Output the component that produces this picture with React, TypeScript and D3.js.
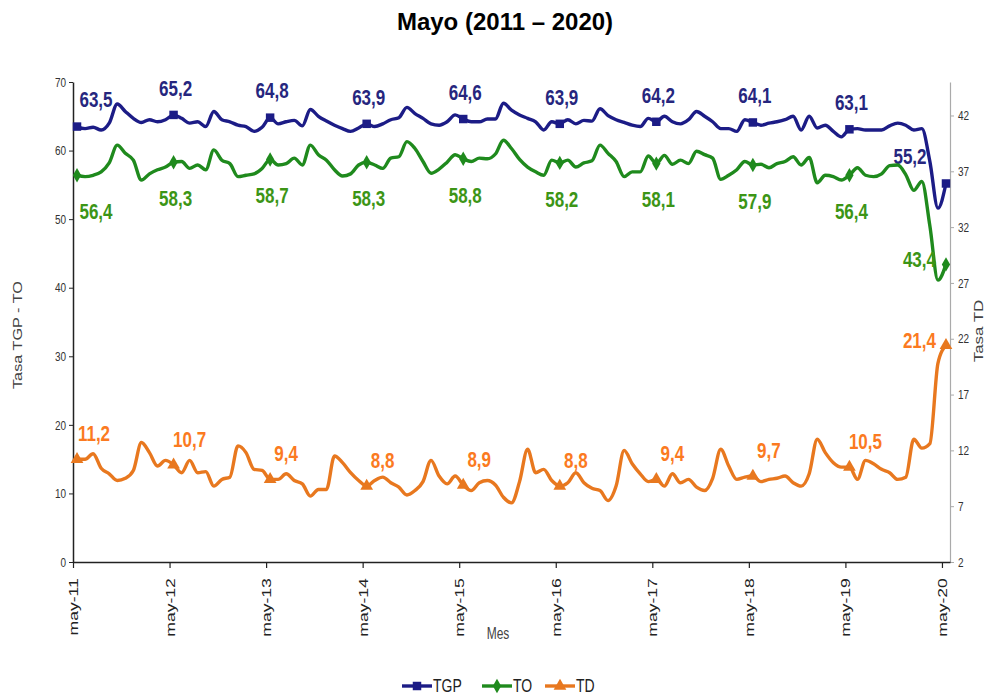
import React, { useEffect, useRef } from 'react';
import * as d3 from 'd3';

// months from may-11 to may-20 (one value per month)
const yearLabels = ['may-11', 'may-12', 'may-13', 'may-14', 'may-15', 'may-16', 'may-17', 'may-18', 'may-19', 'may-20']

const tgp = [
  63.5, 63.2, 63.4, 63.0, 64.0, 66.8, 65.7, 64.7, 64.1, 64.5, 64.2, 64.5,
  65.2, 64.7, 64.0, 64.2, 63.5, 65.7, 64.5, 64.2, 63.7, 63.5, 62.8, 63.4,
  64.8, 63.9, 64.2, 64.4, 63.6, 66.0, 65.0, 64.3, 63.7, 63.2, 62.8, 63.3,
  63.9, 63.5, 63.9, 64.5, 64.8, 66.3, 65.4, 64.7, 63.9, 63.7, 64.2, 65.2,
  64.6, 64.2, 64.2, 64.6, 64.6, 66.9, 65.9, 65.2, 64.7, 64.2, 63.0, 64.2,
  63.9, 64.5, 63.9, 64.4, 64.3, 66.1, 65.1, 64.5, 64.1, 63.7, 63.5, 64.7,
  64.2, 65.0, 64.2, 63.9, 64.5, 65.7, 65.0, 64.2, 63.2, 63.2, 62.8, 64.5,
  64.1, 63.7, 64.0, 64.2, 64.5, 65.0, 63.0, 65.0, 63.3, 63.7, 62.8, 62.0,
  63.1, 63.2, 63.0, 63.0, 63.0, 63.6, 64.0, 63.7, 63.0, 63.2, 58.4, 51.6,
  55.2
]

const to = [
  56.4, 56.2, 56.4, 56.9, 58.2, 60.8, 59.6, 58.6, 55.7, 56.6, 57.2, 57.6,
  58.3, 58.4, 57.4, 57.9, 57.2, 60.1, 58.6, 58.1, 56.2, 56.4, 56.6, 57.4,
  58.7, 57.9, 58.1, 58.9, 57.9, 60.8, 59.4, 58.6, 57.2, 56.3, 56.6, 57.9,
  58.3, 57.9, 57.4, 58.9, 59.1, 61.3, 60.3, 58.4, 56.7, 57.3, 58.3, 59.4,
  58.8, 58.4, 58.9, 58.8, 59.5, 61.5, 60.3, 58.7, 57.6, 56.9, 56.4, 58.6,
  58.2, 58.6, 57.6, 58.2, 58.5, 60.8, 59.6, 58.4, 56.2, 56.9, 56.9, 59.2,
  58.1, 59.3, 58.0, 58.6, 58.1, 59.9, 59.4, 58.9, 55.8, 56.4, 57.2, 58.4,
  57.9, 58.0, 57.5, 58.1, 58.4, 59.1, 57.9, 59.0, 55.3, 56.4, 56.2, 55.7,
  56.4, 57.5, 56.4, 56.2, 56.6, 57.8, 57.9, 56.5, 54.2, 55.5, 49.0, 41.1,
  43.4
]

const td = [
  11.2, 11.2, 11.7, 10.4, 9.9, 9.3, 9.5, 10.2, 12.7, 11.8, 10.6, 11.1,
  10.7, 10.0, 11.1, 10.0, 10.1, 8.8, 9.4, 9.6, 12.4, 11.8, 10.3, 10.2,
  9.4, 9.4, 9.9, 9.3, 9.0, 7.9, 8.5, 8.5, 11.5, 10.9, 10.0, 9.3,
  8.8, 9.3, 9.6, 9.1, 8.7, 8.0, 8.4, 9.2, 11.1, 9.7, 9.0, 9.7,
  8.9, 8.4, 9.1, 9.3, 8.9, 7.8, 7.3, 9.2, 12.1, 10.0, 10.3, 9.3,
  8.8, 9.1, 10.0, 9.1, 8.6, 8.4, 7.5, 8.8, 12.0, 10.8, 9.9, 9.2,
  9.4, 8.8, 9.9, 9.1, 9.4, 8.7, 8.4, 9.5, 12.1, 10.6, 9.4, 9.6,
  9.7, 9.2, 9.4, 9.5, 9.7, 9.1, 8.8, 9.9, 13.0, 11.8, 10.9, 10.5,
  10.5, 9.4, 11.1, 10.8, 10.3, 10.0, 9.4, 9.6, 13.0, 12.2, 12.6, 19.8,
  21.4
]

const leftTicks = [0, 10, 20, 30, 40, 50, 60, 70]
const rightTicks = [2, 7, 12, 17, 22, 27, 32, 37, 42]

const FONT = 'Arial, "Liberation Sans", sans-serif'
const SY = 1.3 // the source picture is stretched vertically

function App() {
  const ref = useRef<SVGSVGElement>(null)

  useEffect(() => {
    const svg = d3.select(ref.current)
    svg.selectAll('*').remove()

    const left = 73, right = 950, top = 82, bottom = 562
    const n = tgp.length

    const x = d3.scaleLinear().domain([-0.5, n - 0.5]).range([left, right])
    const yL = d3.scaleLinear().domain([0, 70]).range([bottom, top])
    const yR = d3.scaleLinear().domain([2, 45]).range([bottom, top])

    const fmt = (v: number) => d3.format('.1f')(v).replace('.', ',')

    // title
    svg.append('text')
      .attr('x', 505).attr('y', 30)
      .attr('text-anchor', 'middle')
      .attr('font-family', FONT).attr('font-weight', 'bold').attr('font-size', 24)
      .text('Mayo (2011 \u2013 2020)')

    // left axis
    const gl = svg.append('g')
      .attr('transform', `translate(${left},0)`)
      .call(d3.axisLeft(yL).tickValues(leftTicks).tickSize(4).tickSizeOuter(0))
    gl.select('.domain').attr('stroke', '#222').attr('stroke-width', 1.5)
    gl.selectAll('.tick line').attr('stroke', '#222')
    gl.selectAll('.tick text')
      .attr('font-family', FONT).attr('font-size', 10).attr('fill', '#333')
      .attr('x', -7)
      .attr('transform', `scale(1,${SY})`)

    // right axis
    const gr = svg.append('g')
      .attr('transform', `translate(${right},0)`)
      .call(d3.axisRight(yR).tickValues(rightTicks).tickSize(4).tickSizeOuter(0))
    gr.select('.domain').attr('stroke', '#aaa').attr('stroke-width', 1.2)
    gr.selectAll('.tick line').attr('stroke', '#aaa')
    gr.selectAll('.tick text')
      .attr('font-family', FONT).attr('font-size', 10).attr('fill', '#333')
      .attr('x', 8)
      .attr('transform', `scale(1,${SY})`)

    // bottom axis
    const gb = svg.append('g')
      .attr('transform', `translate(0,${bottom})`)
      .call(d3.axisBottom(x)
        .tickValues(yearLabels.map((d, i) => i * 12 - 0.5))
        .tickFormat((d, i) => yearLabels[i])
        .tickSize(6).tickSizeOuter(0))
    gb.select('.domain').attr('stroke', '#222').attr('stroke-width', 1.5)
    gb.selectAll('.tick line').attr('stroke', '#222').attr('stroke-width', 1.2)
    gb.selectAll('.tick text')
      .attr('font-family', FONT).attr('font-size', 13).attr('fill', '#222')
      .attr('text-anchor', 'end')
      .attr('x', -12).attr('y', 0).attr('dy', '0.35em')
      .attr('transform', `scale(1,${SY + 0.05}) rotate(-90)`)

    // axis titles
    const axisTitle = (tx: number, ty: number, rot: number, size: number, label: string) =>
      svg.append('text')
        .attr('transform', `translate(${tx},${ty}) scale(1,${SY}) rotate(${rot})`)
        .attr('text-anchor', 'middle')
        .attr('font-family', FONT).attr('font-size', size).attr('fill', '#444')
        .text(label)
    axisTitle(22, 335, -90, 12.5, 'Tasa TGP - TO')
    axisTitle(983, 331, -90, 13, 'Tasa TD')
    axisTitle(498, 639, 0, 12, 'Mes')

    const series = [
      { name: 'TGP', values: tgp, y: yL, color: '#1c1c86', label: '#26267e', sym: d3.symbolSquare, size: 72 },
      { name: 'TO', values: to, y: yL, color: '#1f8a1d', label: '#3c9516', sym: d3.symbolDiamond, size: 60 },
      { name: 'TD', values: td, y: yR, color: '#e8781f', label: '#fb7a21', sym: d3.symbolTriangle, size: 70 },
    ]

    series.forEach(s => {
      const line = d3.line<number>()
        .x((d, i) => x(i))
        .y(d => s.y(d))
        .curve(d3.curveMonotoneX)

      svg.append('path')
        .datum(s.values)
        .attr('fill', 'none')
        .attr('stroke', s.color)
        .attr('stroke-width', 3.4)
        .attr('stroke-linejoin', 'round')
        .attr('stroke-linecap', 'round')
        .attr('d', line)

      const marks = yearLabels.map((d, i) => i * 12)

      svg.append('g').selectAll('path')
        .data(marks)
        .enter().append('path')
        .attr('transform', k => `translate(${x(k)},${s.y(s.values[k])})`)
        .attr('d', d3.symbol().type(s.sym).size(s.size))
        .attr('fill', s.color)

      svg.append('g').selectAll('text')
        .data(marks)
        .enter().append('text')
        .attr('transform', k => {
          const v = s.values[k]
          const last = k === n - 1
          let cx, cy
          if (s.name === 'TGP') {
            cx = Math.min(Math.max(x(k) + 2, 96), 910); cy = s.y(v) - 27
          } else if (s.name === 'TO') {
            cx = last ? x(k) - 10 : Math.max(x(k) + 2, 96); cy = last ? s.y(v) - 5 : s.y(v) + 36
          } else {
            cx = last ? x(k) - 10 : Math.max(x(k) + 16, 94); cy = last ? s.y(v) - 5 : s.y(v) - 26
          }
          return `translate(${cx},${cy}) scale(1,${SY})`
        })
        .attr('text-anchor', k => (k === n - 1 && s.name !== 'TGP') ? 'end' : 'middle')
        .attr('dy', '0.35em')
        .attr('font-family', FONT).attr('font-weight', 'bold').attr('font-size', 17)
        .attr('fill', s.label)
        .text(k => fmt(s.values[k]))
    })

    // legend
    const lg = svg.append('g').attr('transform', 'translate(0,686)')
    const legendX = [402, 482, 545]
    series.forEach((s, i) => {
      const x0 = legendX[i]
      lg.append('line')
        .attr('x1', x0).attr('x2', x0 + 30)
        .attr('stroke', s.color).attr('stroke-width', 3.4)
      lg.append('path')
        .attr('transform', `translate(${x0 + 15},0)`)
        .attr('d', d3.symbol().type(s.sym).size(s.size))
        .attr('fill', s.color)
      lg.append('text')
        .attr('transform', `translate(${x0 + 31},0) scale(1,${SY})`)
        .attr('dy', '0.35em')
        .attr('font-family', FONT).attr('font-size', 14).attr('fill', '#222')
        .text(s.name)
    })
  }, [])

  return (
    <svg ref={ref} width={990} height={696}
      style={{ position: 'absolute', left: 0, top: 0, background: '#fff' }} />
  )
}

export default App
